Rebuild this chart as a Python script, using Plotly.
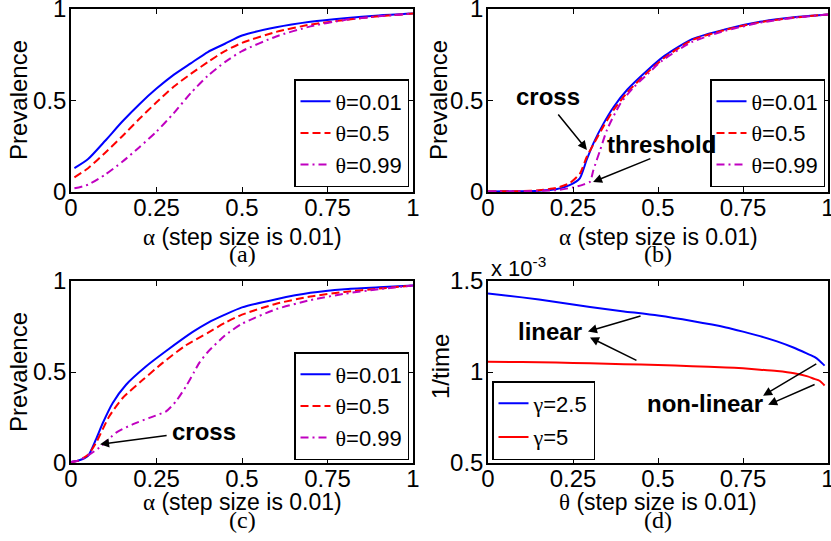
import plotly.graph_objects as go

W, H = 831, 541

# ---------------- data ----------------
# (a)
a_alpha = [0.01, 0.05, 0.10, 0.15, 0.20, 0.25, 0.30, 0.35, 0.40, 0.45, 0.50, 0.60, 0.70, 0.80, 0.90, 1.00]
a_theta001 = [0.13, 0.18, 0.28, 0.385, 0.48, 0.565, 0.64, 0.703, 0.765, 0.81, 0.855, 0.90, 0.93, 0.95, 0.965, 0.975]
a_theta05 = [0.08, 0.13, 0.215, 0.305, 0.40, 0.49, 0.575, 0.645, 0.71, 0.77, 0.815, 0.875, 0.915, 0.94, 0.96, 0.975]
a_theta099 = [0.02, 0.04, 0.095, 0.165, 0.245, 0.33, 0.43, 0.54, 0.635, 0.71, 0.77, 0.85, 0.905, 0.94, 0.96, 0.975]

# (b)
b_alpha_001 = [0.0, 0.10, 0.15, 0.20, 0.24, 0.27, 0.29, 0.31, 0.34, 0.37, 0.41, 0.47, 0.52, 0.60, 0.70, 0.80, 0.90, 1.00]
b_theta001 = [0.003, 0.004, 0.007, 0.015, 0.038, 0.075, 0.175, 0.266, 0.375, 0.466, 0.56, 0.667, 0.745, 0.835, 0.89, 0.93, 0.955, 0.97]
b_theta05 = [0.003, 0.005, 0.01, 0.022, 0.048, 0.10, 0.19, 0.26, 0.36, 0.45, 0.545, 0.655, 0.735, 0.83, 0.887, 0.928, 0.953, 0.97]
b_alpha_099 = [0.0, 0.10, 0.20, 0.25, 0.28, 0.30, 0.31, 0.33, 0.35, 0.39, 0.43, 0.47, 0.51, 0.60, 0.70, 0.80, 0.90, 1.00]
b_theta099 = [0.003, 0.004, 0.01, 0.025, 0.04, 0.056, 0.12, 0.23, 0.34, 0.485, 0.575, 0.645, 0.715, 0.82, 0.882, 0.925, 0.952, 0.97]

# (c)
c_alpha_001 = [0.0, 0.02, 0.05, 0.073, 0.093, 0.122, 0.161, 0.219, 0.278, 0.356, 0.40, 0.45, 0.50, 0.60, 0.70, 0.80, 0.90, 1.00]
c_theta001 = [0.005, 0.012, 0.04, 0.13, 0.22, 0.33, 0.43, 0.53, 0.615, 0.72, 0.77, 0.815, 0.855, 0.90, 0.935, 0.955, 0.965, 0.975]
c_alpha_05 = [0.0, 0.02, 0.05, 0.073, 0.112, 0.151, 0.21, 0.268, 0.336, 0.40, 0.45, 0.50, 0.60, 0.70, 0.80, 0.90, 1.00]
c_theta05 = [0.005, 0.012, 0.045, 0.11, 0.257, 0.357, 0.457, 0.55, 0.647, 0.715, 0.77, 0.815, 0.875, 0.915, 0.94, 0.958, 0.975]
c_alpha_099 = [0.0, 0.02, 0.049, 0.083, 0.132, 0.18, 0.229, 0.278, 0.307, 0.336, 0.36, 0.375, 0.40, 0.45, 0.50, 0.60, 0.70, 0.80, 0.90, 1.00]
c_theta099 = [0.005, 0.012, 0.04, 0.085, 0.167, 0.212, 0.248, 0.284, 0.339, 0.42, 0.50, 0.55, 0.61, 0.70, 0.765, 0.845, 0.895, 0.93, 0.955, 0.975]

# (d)  values in units of 1e-3
d_theta = [0.0, 0.10, 0.20, 0.30, 0.40, 0.50, 0.60, 0.70, 0.75, 0.80, 0.85, 0.90, 0.94, 0.96, 0.975, 0.99]
d_gamma25 = [1.431, 1.41, 1.385, 1.357, 1.333, 1.31, 1.28, 1.245, 1.222, 1.197, 1.168, 1.133, 1.10, 1.083, 1.062, 1.035]
d_gamma5 = [1.056, 1.055, 1.052, 1.048, 1.043, 1.038, 1.032, 1.025, 1.02, 1.013, 1.005, 0.993, 0.976, 0.962, 0.952, 0.926]

x_ticks = [0, 0.25, 0.5, 0.75, 1]
x_ticktext = ["0", "0.25", "0.5", "0.75", "1"]
p_ticks = [0, 0.5, 1]
p_ticktext = ["0", "0.5", "1"]
d_ticks = [0.5, 1, 1.5]
d_ticktext = ["0.5", "1", "1.5"]

# ---------------- styling ----------------
SANS = "Liberation Sans"
SERIF = "Liberation Serif"
BLUE, RED, MAG = "#0000ff", "#ff0000", "#c000c0"
DASH = "8px,4px"
DASHDOT = "8px,4px,2px,4px"


def th(v):
    return f'<span style="font-family:{SERIF}">θ</span>={v}'


def gm(v):
    return f'<span style="font-family:{SERIF}">γ</span>={v}'


fig = go.Figure()


def add(x, y, color, dash, name, xa, ya, legend, group):
    fig.add_trace(go.Scatter(
        x=x, y=y, mode="lines", name=name,
        line=dict(color=color, width=2, dash=dash, shape="spline", smoothing=0.6),
        xaxis=xa, yaxis=ya, legend=legend, legendgroup=group,
    ))


add(a_alpha, a_theta001, BLUE, "solid", th("0.01"), "x", "y", "legend", "a1")
add(a_alpha, a_theta05, RED, DASH, th("0.5"), "x", "y", "legend", "a2")
add(a_alpha, a_theta099, MAG, DASHDOT, th("0.99"), "x", "y", "legend", "a3")

add(b_alpha_001, b_theta001, BLUE, "solid", th("0.01"), "x2", "y2", "legend2", "b1")
add(b_alpha_001, b_theta05, RED, DASH, th("0.5"), "x2", "y2", "legend2", "b2")
add(b_alpha_099, b_theta099, MAG, DASHDOT, th("0.99"), "x2", "y2", "legend2", "b3")

add(c_alpha_001, c_theta001, BLUE, "solid", th("0.01"), "x3", "y3", "legend3", "c1")
add(c_alpha_05, c_theta05, RED, DASH, th("0.5"), "x3", "y3", "legend3", "c2")
add(c_alpha_099, c_theta099, MAG, DASHDOT, th("0.99"), "x3", "y3", "legend3", "c3")

add(d_theta, d_gamma25, BLUE, "solid", gm("2.5"), "x4", "y4", "legend4", "d1")
add(d_theta, d_gamma5, RED, "solid", gm("5"), "x4", "y4", "legend4", "d2")


def px_x(p):
    return p / W


def px_y(p):
    return 1 - p / H


def axis(domain, anchor, rng, tv, tt, standoff):
    return dict(
        domain=domain, anchor=anchor, range=rng, automargin=False,
        tickmode="array", tickvals=tv, ticktext=tt,
        showline=True, linecolor="black", linewidth=1.5, mirror="ticks",
        ticks="inside", ticklen=5, tickwidth=1, tickcolor="black",
        showgrid=False, zeroline=False, ticklabeloverflow="allow",
        ticklabelstandoff=standoff,
        tickfont=dict(family=SANS, size=24, color="black"),
    )


L1, R1 = 71, 413
L2, R2 = 488, 828
T1, B1 = 9, 192
T2, B2 = 281, 463

xd1 = [px_x(L1), px_x(R1)]
xd2 = [px_x(L2), px_x(R2)]
yd1 = [px_y(B1), px_y(T1)]
yd2 = [px_y(B2), px_y(T2)]


def legend(xr, yb, gap=0, size=22):
    return dict(
        x=px_x(xr), y=px_y(yb), xanchor="right", yanchor="bottom",
        bgcolor="white", bordercolor="black", borderwidth=1.5,
        font=dict(family=SANS, size=size, color="black"),
        tracegroupgap=gap, itemwidth=30,
    )


lg4 = legend(585, 460, gap=2)

XS, YS = -7, -2
fig.update_layout(
    template="none",
    width=W, height=H,
    margin=dict(l=0, r=0, t=0, b=0, autoexpand=False),
    paper_bgcolor="white", plot_bgcolor="white",
    showlegend=True,
    xaxis=axis(xd1, "y", [0, 1], x_ticks, x_ticktext, XS),
    yaxis=axis(yd1, "x", [0, 1], p_ticks, p_ticktext, YS),
    xaxis2=axis(xd2, "y2", [0, 1], x_ticks, x_ticktext, XS),
    yaxis2=axis(yd1, "x2", [0, 1], p_ticks, p_ticktext, YS),
    xaxis3=axis(xd1, "y3", [0, 1], x_ticks, x_ticktext, XS),
    yaxis3=axis(yd2, "x3", [0, 1], p_ticks, p_ticktext, YS),
    xaxis4=axis(xd2, "y4", [0, 1], x_ticks, x_ticktext, XS),
    yaxis4=axis(yd2, "x4", [0.5, 1.5], d_ticks, d_ticktext, YS),
    legend=legend(409, 187),
    legend2=legend(825, 187),
    legend3=legend(409, 460),
    legend4=dict(lg4, x=px_x(492), xanchor="left"),
)

ann = []


def text(x, y, s, size=24, family=SANS, angle=0, xanchor="center", yanchor="middle"):
    ann.append(dict(x=px_x(x), y=px_y(y), xref="paper", yref="paper", text=s,
                    showarrow=False, textangle=angle, xanchor=xanchor, yanchor=yanchor,
                    font=dict(family=family, size=size, color="black")))


alpha_title = f'<span style="font-family:{SERIF}">α</span> (step size is 0.01)'
theta_title = f'<span style="font-family:{SERIF}">θ</span> (step size is 0.01)'

text(242, 237, alpha_title, size=23)
text(658, 237, alpha_title, size=23)
text(242, 502, alpha_title, size=23)
text(658, 502, theta_title, size=23)

text(242, 254, "(a)", family=SERIF)
text(658, 254, "(b)", family=SERIF)
text(242, 520, "(c)", family=SERIF)
text(658, 520, "(d)", family=SERIF)

text(18, 100, "Prevalence", angle=-90)
text(438, 100, "Prevalence", angle=-90)
text(18, 372, "Prevalence", angle=-90)
text(440, 367, "1/time", angle=-90)

text(489, 283, "x 10<sup>-3</sup>", size=22, xanchor="left", yanchor="bottom")


def data_text(xa, ya, x, y, s):
    ann.append(dict(x=x, y=y, xref=xa, yref=ya, text=f"<b>{s}</b>", showarrow=False,
                    font=dict(family=SANS, size=24, color="black")))


def arrow(xa, ya, x0, y0, x1, y1):
    ann.append(dict(x=x1, y=y1, ax=x0, ay=y0, xref=xa, yref=ya, axref=xa, ayref=ya,
                    text="", showarrow=True, arrowhead=2, arrowsize=1.2,
                    arrowwidth=1.5, arrowcolor="black"))


data_text("x2", "y2", 0.176, 0.52, "cross")
arrow("x2", "y2", 0.203, 0.432, 0.291, 0.23)
data_text("x2", "y2", 0.51, 0.257, "threshold")
arrow("x2", "y2", 0.482, 0.186, 0.309, 0.055)

data_text("x3", "y3", 0.39, 0.174, "cross")
arrow("x3", "y3", 0.284, 0.152, 0.085, 0.103)

data_text("x4", "y4", 0.182, 1.223, "linear")
arrow("x4", "y4", 0.453, 1.31, 0.294, 1.223)
arrow("x4", "y4", 0.441, 1.06, 0.30, 1.19)
data_text("x4", "y4", 0.638, 0.826, "non-linear")
arrow("x4", "y4", 0.97, 1.049, 0.809, 0.87)
arrow("x4", "y4", 0.965, 0.935, 0.824, 0.82)

fig.update_layout(annotations=ann)

fig.write_html(
    "out.html",
    config={"displayModeBar": False},
    post_script="document.body.style.margin='0px';document.body.style.overflow='hidden';",
)
